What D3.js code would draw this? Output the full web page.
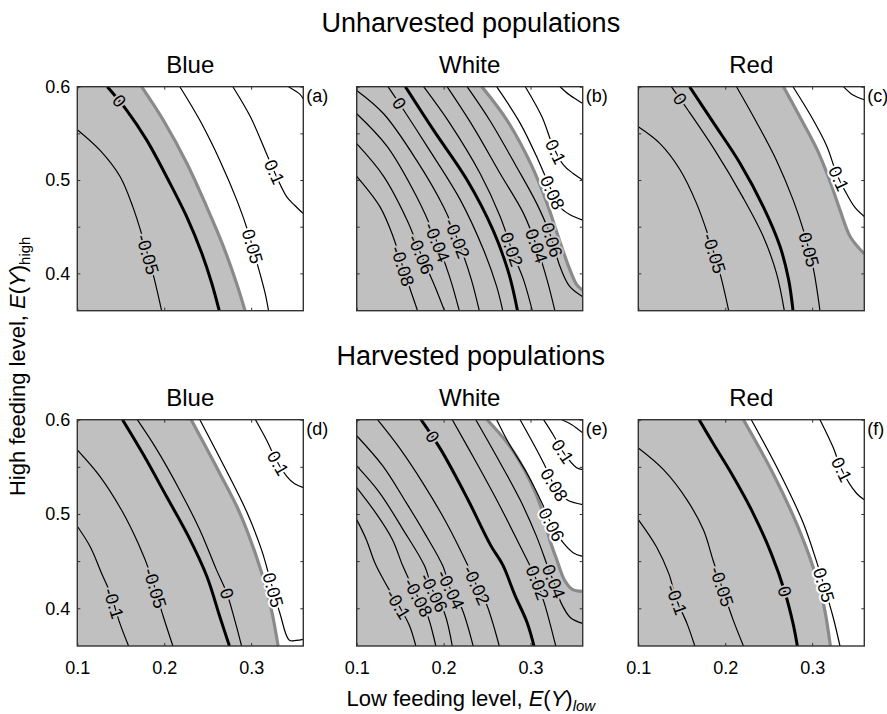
<!DOCTYPE html>
<html>
<head>
<meta charset="utf-8">
<script src="https://cdn.jsdelivr.net/npm/d3@7"></script>
<style>
  body { margin: 0; background: #fff; }
  svg text { font-family: "Liberation Sans", Arial, sans-serif; fill: #000; }
</style>
</head>
<body>
<svg id="chart" width="887" height="714"></svg>
<script>
// titles and ticks
const rowTitles = ["Unharvested populations", "Harvested populations"];
const colTitles = ["Blue", "White", "Red"];
const panelTags = ["(a)", "(b)", "(c)", "(d)", "(e)", "(f)"];
const xDomain = [0.1, 0.36];
const yDomain = [0.36, 0.6];
const xTicks = [0.1, 0.2, 0.3];
const yTicks = [0.4, 0.45, 0.5, 0.55, 0.6];
const yTickLabels = [0.4, 0.5, 0.6];

// contour lines: [E(Y)low, E(Y)high]
const contoursA = [
  { text: "-0.05", pts: [[0.100,0.554],[0.126,0.532],[0.149,0.504],[0.164,0.471],[0.176,0.436],[0.187,0.400],[0.197,0.36]], at: [0.180,0.420] },
  { text: "0.05", pts: [[0.218,0.6],[0.241,0.564],[0.264,0.521],[0.285,0.475],[0.297,0.443],[0.308,0.407],[0.316,0.379],[0.320,0.36]], at: [0.302,0.429] },
  { text: "0.1", pts: [[0.279,0.6],[0.299,0.568],[0.316,0.532],[0.329,0.504],[0.341,0.482],[0.350,0.473],[0.36,0.464]], at: [0.327,0.509] },
  { text: "", pts: [[0.343,0.6],[0.350,0.596],[0.356,0.592],[0.36,0.587]] }
];
const thickA = { text: "0", pts: [[0.1345,0.6],[0.1567,0.575],[0.1797,0.543],[0.2047,0.500],[0.2257,0.461],[0.2430,0.422],[0.2545,0.390],[0.2633,0.36]], at: [0.147,0.584] };
const shadeA = [[0.174,0.6],[0.199,0.564],[0.226,0.518],[0.249,0.471],[0.268,0.429],[0.283,0.390],[0.293,0.36]];

const contoursB = [
  { text: "-0.08", pts: [[0.100,0.504],[0.127,0.471],[0.142,0.439],[0.154,0.404],[0.163,0.379],[0.170,0.36]], at: [0.150,0.407] },
  { text: "-0.06", pts: [[0.100,0.539],[0.131,0.504],[0.158,0.457],[0.175,0.418],[0.190,0.386],[0.201,0.36]], at: [0.173,0.420] },
  { text: "-0.04", pts: [[0.100,0.571],[0.135,0.536],[0.169,0.482],[0.190,0.439],[0.207,0.396],[0.218,0.36]], at: [0.189,0.432] },
  { text: "-0.02", pts: [[0.100,0.596],[0.131,0.571],[0.169,0.521],[0.200,0.471],[0.219,0.429],[0.232,0.393],[0.241,0.36]], at: [0.211,0.436] },
  { text: "0", pts: [[0.136,0.6],[0.154,0.575],[0.181,0.536],[0.219,0.479],[0.246,0.425],[0.261,0.386],[0.268,0.36]], at: [0.148,0.582] },
  { text: "0.02", pts: [[0.177,0.6],[0.207,0.561],[0.242,0.507],[0.265,0.461],[0.280,0.421],[0.292,0.393],[0.302,0.36]], at: [0.276,0.425] },
  { text: "0.04", pts: [[0.204,0.6],[0.234,0.557],[0.265,0.507],[0.292,0.464],[0.307,0.429],[0.319,0.393],[0.328,0.36]], at: [0.305,0.429] },
  { text: "0.06", pts: [[0.227,0.6],[0.253,0.564],[0.284,0.514],[0.307,0.475],[0.322,0.443],[0.334,0.407],[0.345,0.386],[0.36,0.375]], at: [0.324,0.436] },
  { text: "0.08", pts: [[0.261,0.6],[0.288,0.561],[0.309,0.521],[0.322,0.493],[0.334,0.471],[0.345,0.463],[0.36,0.457]], at: [0.327,0.487] },
  { text: "0.1", pts: [[0.294,0.6],[0.313,0.568],[0.326,0.536],[0.338,0.516],[0.349,0.507],[0.36,0.500]], at: [0.328,0.530] },
  { text: "", pts: [[0.334,0.6],[0.345,0.591],[0.36,0.582]] }
];
const thickB = { pts: [[0.156,0.6],[0.188,0.554],[0.227,0.500],[0.257,0.446],[0.275,0.400],[0.285,0.36]] };
const shadeB = [[0.244,0.6],[0.273,0.564],[0.301,0.516],[0.319,0.475],[0.332,0.439],[0.344,0.407],[0.353,0.388],[0.36,0.382]];

const contoursC = [
  { text: "-0.05", pts: [[0.100,0.557],[0.125,0.539],[0.148,0.511],[0.167,0.475],[0.181,0.439],[0.194,0.400],[0.204,0.36]], at: [0.186,0.421] },
  { text: "0", pts: [[0.138,0.6],[0.157,0.575],[0.188,0.532],[0.220,0.482],[0.244,0.439],[0.259,0.400],[0.268,0.36]], at: [0.147,0.586] },
  { text: "0.05", pts: [[0.213,0.6],[0.236,0.562],[0.259,0.521],[0.278,0.479],[0.290,0.446],[0.301,0.407],[0.309,0.36]], at: [0.295,0.425] },
  { text: "0.1", pts: [[0.278,0.6],[0.299,0.568],[0.317,0.536],[0.328,0.507],[0.338,0.488],[0.349,0.471],[0.36,0.461]], at: [0.327,0.500] },
  { text: "", pts: [[0.336,0.6],[0.347,0.591],[0.36,0.586]] }
];
const thickC = { pts: [[0.159,0.6],[0.186,0.562],[0.217,0.518],[0.244,0.471],[0.263,0.429],[0.273,0.393],[0.278,0.36]] };
const shadeC = [[0.267,0.6],[0.288,0.564],[0.306,0.532],[0.320,0.500],[0.332,0.468],[0.344,0.439],[0.36,0.421]];

const contoursD = [
  { text: "-0.1", pts: [[0.100,0.487],[0.115,0.465],[0.128,0.437],[0.138,0.416],[0.149,0.384],[0.159,0.36]], at: [0.141,0.405] },
  { text: "-0.05", pts: [[0.100,0.568],[0.126,0.540],[0.151,0.504],[0.170,0.469],[0.184,0.437],[0.199,0.391],[0.210,0.36]], at: [0.187,0.421] },
  { text: "0", pts: [[0.169,0.6],[0.191,0.569],[0.218,0.525],[0.241,0.483],[0.260,0.441],[0.272,0.416],[0.281,0.388],[0.289,0.36]], at: [0.273,0.416] },
  { text: "0.05", pts: [[0.241,0.6],[0.272,0.545],[0.295,0.502],[0.312,0.462],[0.322,0.430],[0.333,0.395],[0.344,0.366],[0.352,0.366],[0.36,0.367]], at: [0.324,0.419] },
  { text: "0.1", pts: [[0.305,0.6],[0.318,0.578],[0.329,0.557],[0.341,0.540],[0.350,0.532],[0.36,0.528]], at: [0.331,0.554] }
];
const thickD = { pts: [[0.152,0.6],[0.176,0.563],[0.203,0.518],[0.228,0.476],[0.249,0.434],[0.264,0.391],[0.275,0.36]] };
const shadeD = [[0.231,0.6],[0.264,0.543],[0.287,0.501],[0.306,0.455],[0.318,0.419],[0.325,0.391],[0.331,0.36]];

const contoursE = [
  { text: "-0.1", pts: [[0.100,0.494],[0.111,0.473],[0.121,0.448],[0.131,0.430],[0.141,0.414],[0.149,0.402],[0.161,0.381],[0.168,0.36]], at: [0.147,0.404] },
  { text: "-0.08", pts: [[0.100,0.528],[0.122,0.501],[0.141,0.473],[0.153,0.445],[0.163,0.425],[0.172,0.409],[0.182,0.391],[0.191,0.36]], at: [0.170,0.411] },
  { text: "-0.06", pts: [[0.100,0.551],[0.126,0.523],[0.153,0.484],[0.178,0.445],[0.187,0.420],[0.201,0.395],[0.210,0.36]], at: [0.187,0.416] },
  { text: "-0.04", pts: [[0.100,0.583],[0.130,0.551],[0.157,0.512],[0.178,0.480],[0.199,0.445],[0.208,0.420],[0.220,0.402],[0.234,0.36]], at: [0.208,0.420] },
  { text: "-0.02", pts: [[0.124,0.6],[0.150,0.569],[0.176,0.533],[0.203,0.491],[0.228,0.445],[0.240,0.420],[0.249,0.405],[0.264,0.36]], at: [0.235,0.423] },
  { text: "0.02", pts: [[0.210,0.6],[0.238,0.554],[0.265,0.508],[0.288,0.466],[0.305,0.434],[0.316,0.405],[0.329,0.36]], at: [0.308,0.427] },
  { text: "0.04", pts: [[0.237,0.6],[0.261,0.561],[0.288,0.515],[0.307,0.476],[0.321,0.441],[0.328,0.425],[0.335,0.406],[0.346,0.390],[0.36,0.384]], at: [0.325,0.428] },
  { text: "0.06", pts: [[0.261,0.6],[0.275,0.575],[0.296,0.543],[0.313,0.512],[0.324,0.489],[0.338,0.469],[0.349,0.459],[0.36,0.455]], at: [0.324,0.489] },
  { text: "0.08", pts: [[0.288,0.6],[0.303,0.575],[0.315,0.554],[0.327,0.531],[0.342,0.515],[0.36,0.510]], at: [0.327,0.531] },
  { text: "0.1", pts: [[0.315,0.6],[0.326,0.584],[0.338,0.565],[0.353,0.549],[0.36,0.547]], at: [0.336,0.566] },
  { text: "", pts: [[0.336,0.6],[0.347,0.595],[0.36,0.586]] }
];
const thickE = { text: "0", pts: [[0.174,0.6],[0.197,0.568],[0.227,0.517],[0.254,0.467],[0.268,0.446],[0.282,0.414],[0.296,0.385],[0.304,0.36]], at: [0.187,0.582] };
const shadeE = [[0.250,0.6],[0.276,0.572],[0.299,0.536],[0.313,0.505],[0.322,0.473],[0.330,0.452],[0.339,0.430],[0.348,0.420],[0.36,0.418]];

const contoursF = [
  { text: "-0.1", pts: [[0.100,0.494],[0.121,0.465],[0.135,0.437],[0.144,0.409],[0.156,0.384],[0.165,0.36]], at: [0.144,0.409] },
  { text: "-0.05", pts: [[0.100,0.570],[0.129,0.547],[0.156,0.515],[0.175,0.483],[0.186,0.451],[0.196,0.423],[0.209,0.388],[0.221,0.36]], at: [0.196,0.423] },
  { text: "0.05", pts: [[0.230,0.6],[0.263,0.543],[0.290,0.490],[0.307,0.444],[0.313,0.426],[0.324,0.391],[0.332,0.36]], at: [0.314,0.425] },
  { text: "0.1", pts: [[0.309,0.6],[0.324,0.571],[0.334,0.547],[0.351,0.522],[0.36,0.515]], at: [0.334,0.547] }
];
const thickF = { text: "0", pts: [[0.170,0.6],[0.186,0.575],[0.209,0.540],[0.232,0.501],[0.253,0.458],[0.269,0.416],[0.278,0.384],[0.283,0.36]], at: [0.263,0.416] };
const shadeF = [[0.221,0.6],[0.255,0.543],[0.282,0.490],[0.301,0.444],[0.313,0.405],[0.321,0.36]];

const panels = [
  { contours: contoursA, thick: thickA, shade: shadeA },
  { contours: contoursB, thick: thickB, shade: shadeB },
  { contours: contoursC, thick: thickC, shade: shadeC },
  { contours: contoursD, thick: thickD, shade: shadeD },
  { contours: contoursE, thick: thickE, shade: shadeE },
  { contours: contoursF, thick: thickF, shade: shadeF }
];

// layout
const colLeft = [77.3, 356.7, 638.3];
const rowTop = [86.7, 419.7];
const panelW = 226;
const panelH = [224, 226.3];
const shadeFill = "#c0c0c0";

const svg = d3.select("#chart");
const curve = d3.curveCatmullRom.alpha(0.5);

// put a label on the drawn path, near the point
function placeOnPath(node, px, py) {
  const len = node.getTotalLength();
  let best = 0, bd = Infinity;
  for (let l = 0; l <= len; l += 0.5) {
    const q = node.getPointAtLength(l);
    const d = (q.x - px) ** 2 + (q.y - py) ** 2;
    if (d < bd) { bd = d; best = l; }
  }
  const p = node.getPointAtLength(best);
  const a = node.getPointAtLength(Math.max(0, best - 6));
  const b = node.getPointAtLength(Math.min(len, best + 6));
  let ang = Math.atan2(b.y - a.y, b.x - a.x) * 180 / Math.PI;
  if (ang > 90) ang -= 180;
  if (ang < -90) ang += 180;
  return { x: p.x, y: p.y, ang };
}

panels.forEach((p, i) => {
  const row = Math.floor(i / 3), col = i % 3;
  const x = d3.scaleLinear().domain(xDomain).range([colLeft[col], colLeft[col] + panelW]);
  const y = d3.scaleLinear().domain(yDomain).range([rowTop[row] + panelH[row], rowTop[row]]);
  const line = d3.line().x(d => x(d[0])).y(d => y(d[1])).curve(curve);

  const g = svg.append("g");
  const clipId = "clip" + i;
  g.append("clipPath").attr("id", clipId).append("rect")
    .attr("x", x(xDomain[0])).attr("y", y(yDomain[1]))
    .attr("width", panelW).attr("height", panelH[row]);
  const plot = g.append("g").attr("clip-path", `url(#${clipId})`);

  // shaded region left of the grey boundary
  const last = p.shade[p.shade.length - 1];
  const corners = [];
  if (last[1] > yDomain[0] + 1e-6) corners.push([xDomain[1], yDomain[0]]);
  corners.push([xDomain[0], yDomain[0]], [xDomain[0], yDomain[1]]);
  const shadePoly = p.shade.concat(corners);

  plot.append("path")
    .attr("d", line(p.shade) + corners.map(c => `L${x(c[0])},${y(c[1])}`).join("") + "Z")
    .attr("fill", shadeFill);
  plot.append("path")
    .attr("d", line(p.shade))
    .attr("fill", "none").attr("stroke", "#8a8a8a").attr("stroke-width", 3.2);

  const labelled = [];
  p.contours.forEach(c => {
    const path = plot.append("path")
      .attr("d", line(c.pts))
      .attr("fill", "none").attr("stroke", "#000").attr("stroke-width", 1.2);
    if (c.text) labelled.push({ node: path.node(), c });
  });
  const thick = plot.append("path")
    .attr("d", line(p.thick.pts))
    .attr("fill", "none").attr("stroke", "#000").attr("stroke-width", 3);
  if (p.thick.text) labelled.push({ node: thick.node(), c: p.thick });

  labelled.forEach(({ node, c }) => {
    const pos = placeOnPath(node, x(c.at[0]), y(c.at[1]));
    const inside = d3.polygonContains(shadePoly, [x.invert(pos.x), y.invert(pos.y)]);
    plot.append("text")
      .attr("transform", `translate(${pos.x},${pos.y}) rotate(${pos.ang})`)
      .attr("text-anchor", "middle")
      .attr("dy", "0.35em")
      .attr("font-size", 18)
      .attr("stroke", inside ? shadeFill : "#fff")
      .attr("stroke-width", 4)
      .attr("stroke-linejoin", "round")
      .attr("paint-order", "stroke")
      .text(c.text);
  });

  // frame and inward ticks
  const yAxisL = d3.axisLeft(y).tickValues(yTicks).tickSize(-3).tickPadding(7)
    .tickFormat(d => (col === 0 && yTickLabels.some(v => Math.abs(v - d) < 1e-9)) ? d3.format(".1f")(d) : "");
  const yAxisR = d3.axisRight(y).tickValues(yTicks).tickSize(-3).tickFormat("");
  const xAxisB = d3.axisBottom(x).tickValues(xTicks).tickSize(-3).tickPadding(15)
    .tickFormat(d => row === 1 ? d3.format(".1f")(d) : "");
  const xAxisT = d3.axisTop(x).tickValues(xTicks).tickSize(-3).tickFormat("");

  const axes = [
    [yAxisL, `translate(${x(xDomain[0])},0)`],
    [yAxisR, `translate(${x(xDomain[1])},0)`],
    [xAxisB, `translate(0,${y(yDomain[0])})`],
    [xAxisT, `translate(0,${y(yDomain[1])})`]
  ];
  axes.forEach(([ax, tr]) => {
    const a = g.append("g").attr("transform", tr).call(ax);
    a.select(".domain").remove();
    a.selectAll("line").attr("stroke", "#333");
    a.attr("font-size", 18).attr("font-family", null);
  });

  g.append("rect")
    .attr("x", x(xDomain[0])).attr("y", y(yDomain[1]))
    .attr("width", panelW).attr("height", panelH[row])
    .attr("fill", "none").attr("stroke", "#333").attr("stroke-width", 1.4);

  g.append("text")
    .attr("x", x(xDomain[1]) + 3).attr("y", y(yDomain[1]) + 15.5)
    .attr("font-size", 18)
    .text(panelTags[i]);

  g.append("text")
    .attr("x", colLeft[col] + panelW / 2).attr("y", rowTop[row] - 13.7)
    .attr("text-anchor", "middle").attr("font-size", 24)
    .text(colTitles[col]);
});

rowTitles.forEach((t, r) => {
  svg.append("text")
    .attr("x", (colLeft[0] + colLeft[2] + panelW) / 2).attr("y", rowTop[r] - 54.7)
    .attr("text-anchor", "middle").attr("font-size", 27)
    .text(t);
});

// axis titles
const yLab = svg.append("text")
  .attr("transform", `translate(25,${(rowTop[0] + rowTop[1] + panelH[1]) / 2}) rotate(-90)`)
  .attr("text-anchor", "middle").attr("font-size", 22);
yLab.append("tspan").text("High feeding level, ");
yLab.append("tspan").attr("font-style", "italic").text("E");
yLab.append("tspan").text("(");
yLab.append("tspan").attr("font-style", "italic").text("Y");
yLab.append("tspan").text(")");
yLab.append("tspan").attr("font-size", 15).attr("dy", 5).text("high");

const xLab = svg.append("text")
  .attr("x", (colLeft[0] + colLeft[2] + panelW) / 2).attr("y", 706)
  .attr("text-anchor", "middle").attr("font-size", 22);
xLab.append("tspan").text("Low feeding level, ");
xLab.append("tspan").attr("font-style", "italic").text("E");
xLab.append("tspan").text("(");
xLab.append("tspan").attr("font-style", "italic").text("Y");
xLab.append("tspan").text(")");
xLab.append("tspan").attr("font-size", 15).attr("font-style", "italic").attr("dy", 5).text("low");
</script>
</body>
</html>
